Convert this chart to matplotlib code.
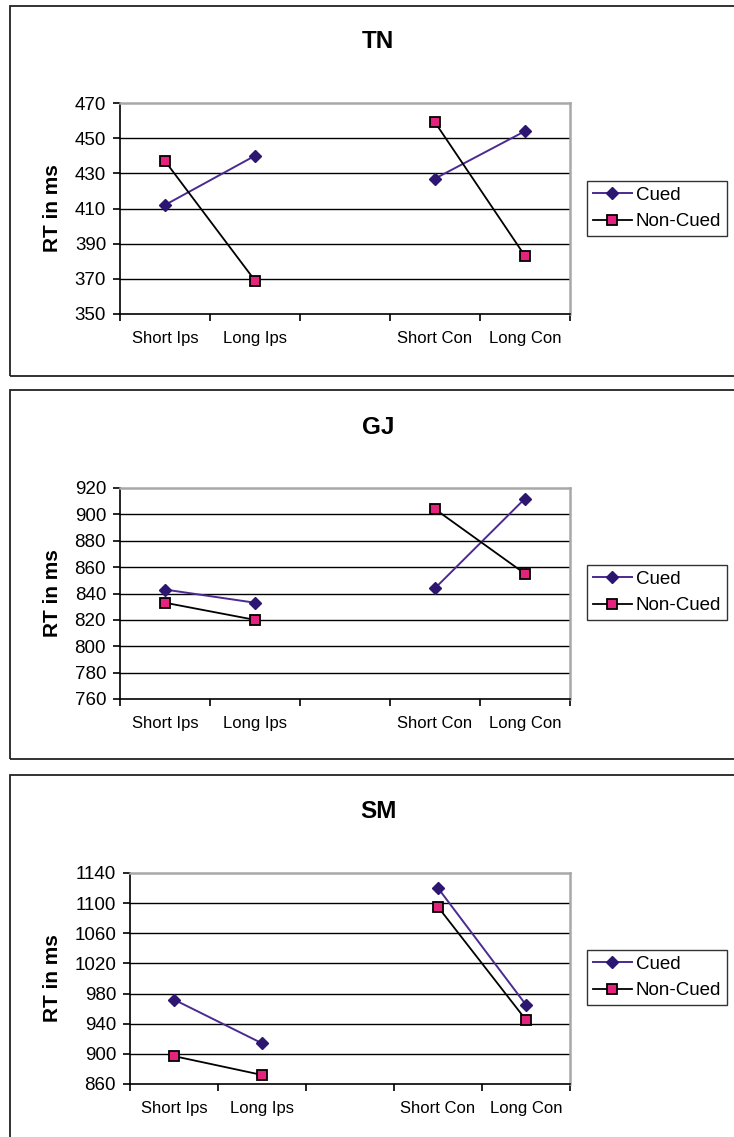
import numpy as np
import matplotlib
matplotlib.use("Agg")
import matplotlib.pyplot as plt
from matplotlib.patches import Rectangle
from matplotlib.lines import Line2D

plt.rcParams['font.family'] = ['Liberation Sans', 'DejaVu Sans']

categories = ['Short Ips', 'Long Ips', '', 'Short Con', 'Long Con']
nan = np.nan

tn_cued = [412, 440, nan, 427, 454]
tn_noncued = [437, 369, nan, 459, 383]
gj_cued = [843, 833, nan, 844, 912]
gj_noncued = [833, 820, nan, 904, 855]
sm_cued = [972, 914, nan, 1120, 965]
sm_noncued = [897, 872, nan, 1095, 945]

titles = ['TN', 'GJ', 'SM']
yticks_list = [list(range(350, 471, 20)), list(range(760, 921, 20)), list(range(860, 1141, 40))]

W, H = 734, 1137
fig = plt.figure(figsize=(W / 100, H / 100), dpi=100)

def fx(px):
    return px / W

def fy(py):
    return 1 - py / H

boxes = [(6, 376), (390, 759), (775, 1160)]
axes_px = [(120, 570, 103, 314), (120, 570, 488, 699), (130, 570, 873, 1084)]
title_y = [42, 427, 812]
legend_y = [181, 565, 950]

cued_line = '#4b2a91'
cued_marker = '#2d1670'
nc_fill = '#e4237f'

series = [(tn_cued, tn_noncued), (gj_cued, gj_noncued), (sm_cued, sm_noncued)]

for i in range(3):
    top, bot = boxes[i]
    fig.patches.append(Rectangle((fx(10), fy(bot)), fx(740) - fx(10), fy(top) - fy(bot),
                                 transform=fig.transFigure, fill=False,
                                 edgecolor='#222222', lw=1.3, zorder=0))
    l, r, t, b = axes_px[i]
    ax = fig.add_axes([fx(l), fy(b), fx(r) - fx(l), fy(t) - fy(b)])
    yt = yticks_list[i]
    ax.set_ylim(yt[0], yt[-1])
    ax.set_xlim(0, 5)
    for v in yt[1:-1]:
        ax.axhline(v, color='black', lw=1.0, zorder=1)
    x = np.arange(len(categories)) + 0.5
    cued, nc = series[i]
    ax.plot(x, cued, color=cued_line, lw=1.4, marker='D', markersize=6.5,
            markerfacecolor=cued_marker, markeredgecolor=cued_marker, zorder=3)
    ax.plot(x, nc, color='black', lw=1.3, marker='s', markersize=7.5,
            markerfacecolor=nc_fill, markeredgecolor='black', markeredgewidth=1.3, zorder=4)
    ax.spines['top'].set_color('#a8a8a8')
    ax.spines['right'].set_color('#a8a8a8')
    ax.spines['top'].set_linewidth(1.8)
    ax.spines['right'].set_linewidth(1.8)
    ax.spines['left'].set_color('black')
    ax.spines['bottom'].set_color('black')
    ax.spines['left'].set_linewidth(1.2)
    ax.spines['bottom'].set_linewidth(1.2)
    ax.set_yticks(yt)
    ax.set_yticklabels([str(v) for v in yt], fontsize=13.5)
    ax.tick_params(axis='y', direction='out', length=5, width=1.2, pad=5)
    ax.set_xticks(np.arange(0, 6))
    ax.set_xticklabels([''] * 6)
    ax.set_xticks(x, minor=True)
    ax.set_xticklabels(categories, minor=True, fontsize=12)
    ax.tick_params(axis='x', which='major', direction='out', length=5, width=1.2)
    ax.tick_params(axis='x', which='minor', length=0, pad=12)
    ax.set_ylabel('RT in ms', fontsize=15, fontweight='bold')
    ax.yaxis.set_label_coords(fx(62), (fy(t) + fy(b)) / 2, transform=fig.transFigure)
    fig.text(fx(378), fy(title_y[i]), titles[i], ha='center', va='center',
             fontsize=17.5, fontweight='bold')
    handles = [Line2D([], [], color=cued_line, lw=1.4, marker='D', markersize=6.5,
                      markerfacecolor=cued_marker, markeredgecolor=cued_marker),
               Line2D([], [], color='black', lw=1.3, marker='s', markersize=7.5,
                      markerfacecolor=nc_fill, markeredgecolor='black', markeredgewidth=1.3)]
    leg = fig.legend(handles, ['Cued', 'Non-Cued'], loc='upper left',
                     bbox_to_anchor=(fx(587), fy(legend_y[i])), fontsize=13.5,
                     frameon=True, fancybox=False, edgecolor='black',
                     borderpad=0.3, labelspacing=0.5, handlelength=2.1,
                     handletextpad=0.2, borderaxespad=0)
    leg.get_frame().set_linewidth(1.0)

fig.savefig('out.png', dpi=100)
